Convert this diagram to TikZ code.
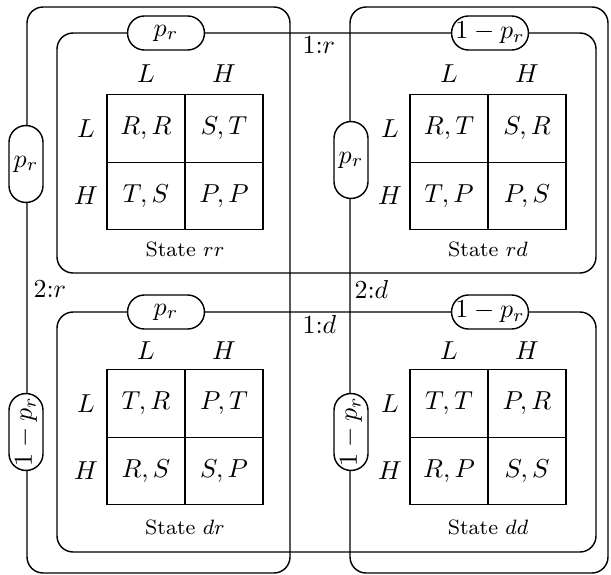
\documentclass[tikz,border=0pt]{standalone}
\begin{document}
\begin{tikzpicture}[x=0.385pt,y=-0.385pt,
  frame/.style={line width=0.55pt, rounded corners=6.2pt},
  pill/.style={draw, fill=white, line width=0.55pt, rounded corners=6.5pt, minimum width=29.6pt, minimum height=13.1pt, inner sep=0pt},
  vpill/.style={draw, fill=white, line width=0.55pt, rounded corners=6.5pt, minimum width=13.1pt, minimum height=29.6pt, inner sep=0pt},
  cell/.style={draw, line width=0.55pt, minimum width=30pt, minimum height=26pt, inner sep=0pt},
  lab/.style={inner sep=0pt},
  st/.style={font=\footnotesize, inner sep=0pt},
  pl/.style={anchor=west, inner sep=0pt}]
\useasboundingbox (0,0) rectangle (611,574);
% frames
\draw[frame] (27,7) rectangle (290,573);
\draw[frame] (350,7) rectangle (608,573);
\draw[frame] (57,33) rectangle (596,273);
\draw[frame] (57,312) rectangle (596,552);
% pills
\node[pill] (prt1) at (166,33) {$p_r$};
\node[pill] (prt2) at (490,33) {$1-p_r$};
\node[pill] (prb1) at (166,312) {$p_r$};
\node[pill] (prb2) at (490,312) {$1-p_r$};
\node[vpill] (pcl1) at (26,164) {$p_r$};
\node[pill, rotate=90] (pcl2) at (26,432) {$1-p_r$};
\node[vpill] (pcr1) at (351,160) {$p_r$};
\node[pill, rotate=90] (pcr2) at (351,432) {$1-p_r$};
% player labels
\node[pl] (l1r) at (302,45) {$1{:}r$};
\node[pl] (l1d) at (302,324) {$1{:}d$};
\node[pl] (l2r) at (33,289) {$2{:}r$};
\node[pl] (l2d) at (354,289) {$2{:}d$};
% State rr
\node[lab] (rrcL) at (146,74) {$L$};
\node[lab] (rrcH) at (224,74) {$H$};
\node[lab] (rrrL) at (86,128.5) {$L$};
\node[lab] (rrrH) at (86,196) {$H$};
\node[cell] (rr11) at (146,128.5) {$R,R$};
\node[cell] (rr12) at (224,128.5) {$S,T$};
\node[cell] (rr21) at (146,196) {$T,S$};
\node[cell] (rr22) at (224,196) {$P,P$};
\node[st] (rrs) at (185,249) {State $rr$};
% State rd
\node[lab] (rdcL) at (449,74) {$L$};
\node[lab] (rdcH) at (527,74) {$H$};
\node[lab] (rdrL) at (390,128.5) {$L$};
\node[lab] (rdrH) at (390,196) {$H$};
\node[cell] (rd11) at (449,128.5) {$R,T$};
\node[cell] (rd12) at (527,128.5) {$S,R$};
\node[cell] (rd21) at (449,196) {$T,P$};
\node[cell] (rd22) at (527,196) {$P,S$};
\node[st] (rds) at (488,249) {State $rd$};
% State dr
\node[lab] (drcL) at (146,351) {$L$};
\node[lab] (drcH) at (224,351) {$H$};
\node[lab] (drrL) at (86,403.5) {$L$};
\node[lab] (drrH) at (86,471) {$H$};
\node[cell] (dr11) at (146,403.5) {$T,R$};
\node[cell] (dr12) at (224,403.5) {$P,T$};
\node[cell] (dr21) at (146,471) {$R,S$};
\node[cell] (dr22) at (224,471) {$S,P$};
\node[st] (drs) at (185,527) {State $dr$};
% State dd
\node[lab] (ddcL) at (449,351) {$L$};
\node[lab] (ddcH) at (527,351) {$H$};
\node[lab] (ddrL) at (390,403.5) {$L$};
\node[lab] (ddrH) at (390,471) {$H$};
\node[cell] (dd11) at (449,403.5) {$T,T$};
\node[cell] (dd12) at (527,403.5) {$P,R$};
\node[cell] (dd21) at (449,471) {$R,P$};
\node[cell] (dd22) at (527,471) {$S,S$};
\node[st] (dds) at (488,527) {State $dd$};
\end{tikzpicture}
\end{document}
